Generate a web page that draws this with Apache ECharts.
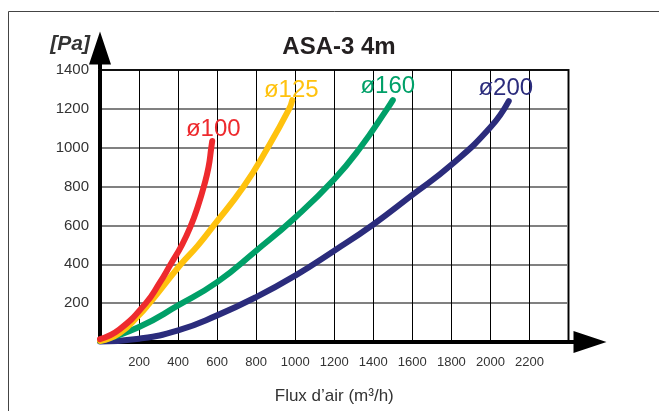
<!DOCTYPE html>
<html>
<head>
<meta charset="utf-8">
<script src="https://cdn.jsdelivr.net/npm/echarts@6/dist/echarts.min.js"></script>
<style>
html,body{margin:0;padding:0;background:#fff;}
#chart{width:659px;height:411px;}
</style>
</head>
<body>
<div id="chart"></div>
<script>
// ---- data ----
const seriesNames = ['ø200', 'ø160', 'ø125', 'ø100'];
const d200 = [[0,3],[200,17],[400,60],[600,137],[800,231],[1000,342],[1200,470],[1400,605],[1600,757],[1800,912],[2000,1105],[2094,1240]];
const d160 = [[0,5],[200,77],[400,188],[600,308],[800,470],[1000,641],[1200,838],[1333,1000],[1471,1200],[1500,1245]];
const d125 = [[0,5],[100,45],[200,138],[250,195],[410,395],[500,495],[583,600],[736,800],[859,1000],[969,1200],[985,1245]];
const d100 = [[0,15],[100,65],[235,200],[303,300],[362,400],[420,500],[466,600],[502,700],[532,800],[556,900],[570,1000],[575,1035]];
const xTickLabels = [200,400,600,800,1000,1200,1400,1600,1800,2000,2200];
const yTickLabels = [200,400,600,800,1000,1200,1400];

const colors = ['#2B2C7C', '#00A068', '#FFC20E', '#EE2A2E'];
const labelOffsets = [[-3, -1], [-5, -2], [-1, 2], [1, 0]];
const allData = [d200, d160, d125, d100];

const FONT = 'Liberation Sans, Arial, Helvetica, sans-serif';
const arrowPath = 'path://M11 0 L22 33 L13 33 L13 38 L9 38 L9 33 L0 33 Z';

const series = allData.map((d, s) => ({
  type: 'line',
  name: seriesNames[s],
  smooth: 0.5,
  showSymbol: true,
  symbol: 'circle',
  symbolSize: 0,
  lineStyle: { color: colors[s], width: 6, cap: 'round', join: 'round' },
  itemStyle: { color: colors[s] },
  emphasis: { disabled: true },
  z: 3 + s,
  data: d.map((p, i) => i === d.length - 1 ? {
    value: p,
    label: {
      show: true, formatter: seriesNames[s], position: 'top', distance: 0,
      offset: labelOffsets[s], color: colors[s], fontSize: 24, fontFamily: FONT
    }
  } : { value: p, label: { show: false } })
}));

const chart = echarts.init(document.getElementById('chart'), null, { renderer: 'canvas' });
chart.setOption({
  animation: false,
  backgroundColor: '#fff',
  title: {
    text: 'ASA-3 4m', left: 334, top: 29, textAlign: 'center',
    textStyle: { fontSize: 24, fontWeight: 'bold', color: '#231f20', fontFamily: FONT, lineHeight: 26 }
  },
  graphic: [{
    type: 'rect', silent: true, z: -1,
    shape: { x: 8.5, y: 11.5, width: 700, height: 500 },
    style: { fill: 'none', stroke: '#444', lineWidth: 1 }
  }],
  grid: {
    left: 100, top: 70, right: 90.5, bottom: 69,
    outerBoundsMode: 'none', containLabel: false,
    show: true, borderColor: '#111', borderWidth: 2, backgroundColor: 'transparent'
  },
  xAxis: {
    type: 'value', min: 0, max: 2400, interval: 200,
    name: 'Flux d’air (m³/h)', nameLocation: 'middle', nameGap: 46,
    nameTextStyle: { fontSize: 17, color: '#333', fontFamily: FONT },
    axisLine: { show: true, onZero: false, symbol: ['none', arrowPath], symbolSize: [22, 38], symbolOffset: [0, 19],
      lineStyle: { color: '#000', width: 4 } },
    axisTick: { show: false },
    axisLabel: { margin: 14, fontSize: 13, color: '#333', fontFamily: FONT,
      formatter: v => xTickLabels.includes(v) ? String(v) : '' },
    splitLine: { show: true, lineStyle: { color: '#000', width: 1 } }
  },
  yAxis: {
    type: 'value', min: 0, max: 1400, interval: 200,
    name: '[Pa]', nameLocation: 'end', nameGap: 26,
    nameTextStyle: { fontSize: 21, fontWeight: 'bold', fontStyle: 'italic', color: '#333', fontFamily: FONT,
      align: 'right', verticalAlign: 'middle', padding: [0, 10, 0, 0] },
    axisLine: { show: true, onZero: false, symbol: ['none', arrowPath], symbolSize: [22, 38], symbolOffset: [0, 19.5],
      lineStyle: { color: '#000', width: 4 } },
    axisTick: { show: false },
    axisLabel: { margin: 11, fontSize: 15, color: '#333', fontFamily: FONT,
      formatter: v => yTickLabels.includes(v) ? String(v) : '' },
    splitLine: { show: true, lineStyle: { color: ['#808080','#808080','#808080','#808080','#808080','#808080','#808080','#111'], width: 2 } }
  },
  series: series
});
</script>
</body>
</html>
